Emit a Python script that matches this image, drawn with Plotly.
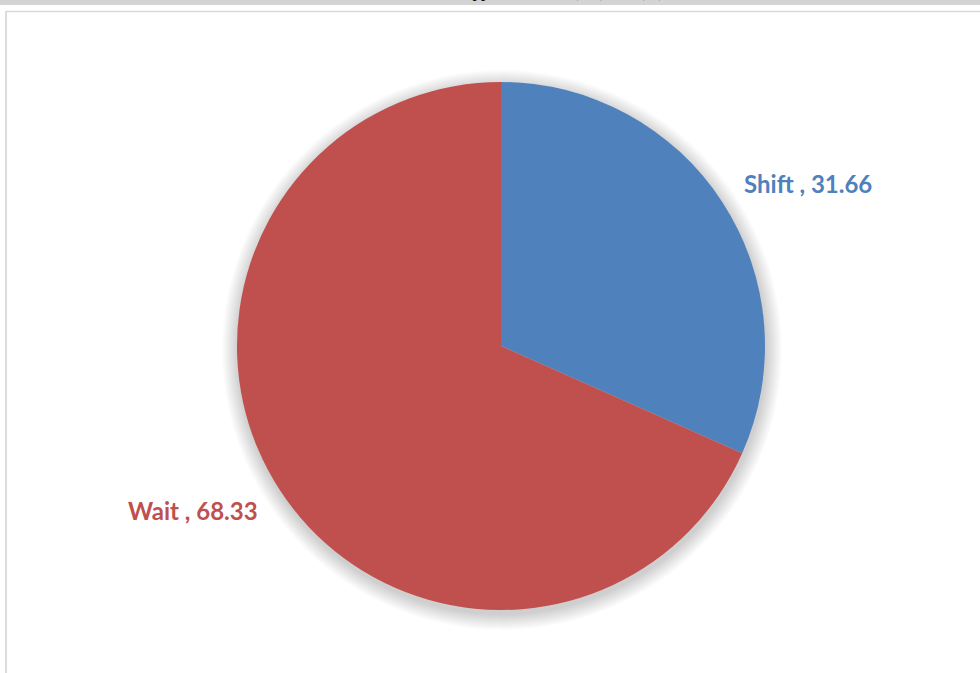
import plotly.graph_objects as go

# Share of each strategy (%)
labels = ["Shift", "Wait"]
values = [31.66, 68.33]
colors = ["#4F81BD", "#C0504D"]

W, H = 980, 673
cx, cy, r = 501, 346, 264  # pie centre and radius in pixels

fig = go.Figure()

fig.add_trace(go.Pie(
    labels=labels,
    values=values,
    marker=dict(colors=colors, line=dict(width=0)),
    sort=False,
    direction="clockwise",
    rotation=0,
    textinfo="none",
    hoverinfo="label+value",
    showlegend=False,
    domain=dict(x=[(cx - r) / W, (cx + r) / W],
                y=[(H - cy - r) / H, (H - cy + r) / H]),
))

def px(x):
    return x / W

def py(y):
    return 1 - y / H

shapes = []
# Soft drop shadow under the pie, built from stacked translucent discs
for grow in range(16, 0, -1):
    rr = r + grow
    sx, sy = cx + 1, cy + 4
    shapes.append(dict(type="circle", xref="paper", yref="paper",
                       x0=px(sx - rr), x1=px(sx + rr), y0=py(sy + rr), y1=py(sy - rr),
                       line=dict(width=0), fillcolor="rgba(0,0,0,0.011)", layer="below"))

# Grey strip at the top of the page
shapes.append(dict(type="rect", xref="paper", yref="paper",
                   x0=0, x1=1, y0=py(5), y1=1,
                   line=dict(width=0), fillcolor="#d4d4d4", layer="below"))
# Chart frame
shapes.append(dict(type="rect", xref="paper", yref="paper",
                   x0=px(5), x1=px(7), y0=0, y1=py(11),
                   line=dict(width=0), fillcolor="#dcdcdc", layer="below"))
shapes.append(dict(type="line", xref="paper", yref="paper",
                   x0=px(6), x1=1, y0=py(11.5), y1=py(11.5),
                   line=dict(color="#d9d9d9", width=1.5), layer="below"))

annotations = [
    dict(x=px(742), y=py(184), xref="paper", yref="paper", xanchor="left", yanchor="middle",
         text=f"<b>{labels[0]} , {values[0]:.2f}</b>", showarrow=False,
         font=dict(family="Lato", size=24, color=colors[0])),
    dict(x=px(126), y=py(510), xref="paper", yref="paper", xanchor="left", yanchor="middle",
         text=f"<b>{labels[1]} , {values[1]:.2f}</b>", showarrow=False,
         font=dict(family="Lato", size=24, color=colors[1])),
    # caption line of the surrounding document, mostly above the page edge
    dict(x=px(515), y=py(3.5), xref="paper", yref="paper", xanchor="center", yanchor="bottom",
         text="Wait and Shift approach times (sec) and (%),", showarrow=False,
         font=dict(family="Liberation Serif", size=17, color="#000000")),
]

fig.update_layout(
    width=W, height=H,
    margin=dict(l=0, r=0, t=0, b=0),
    paper_bgcolor="white",
    plot_bgcolor="white",
    shapes=shapes,
    annotations=annotations,
)

fig.write_html("out.html")
